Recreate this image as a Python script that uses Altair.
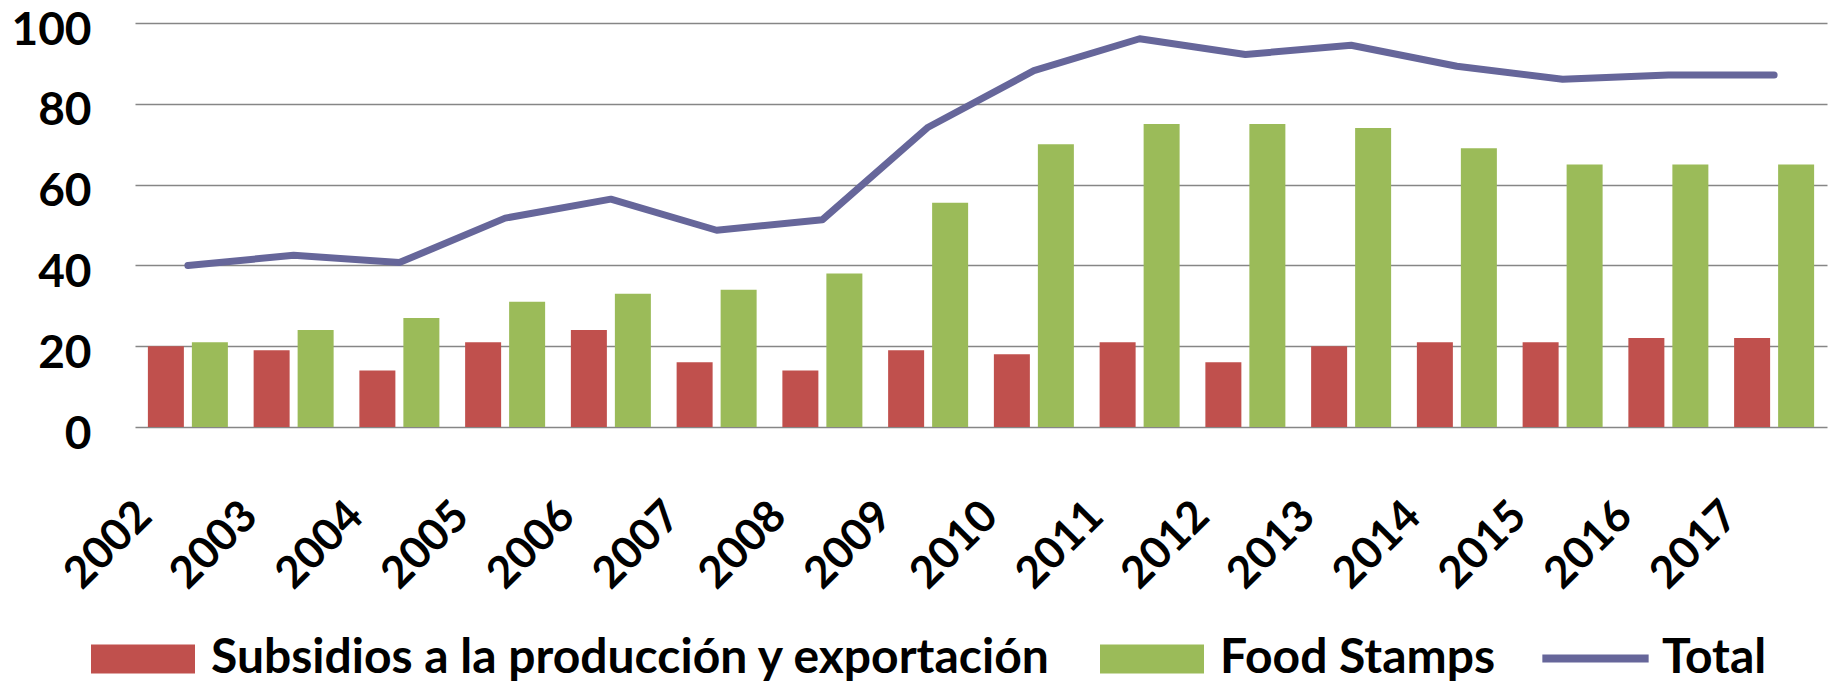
import altair as alt
import pandas as pd

years = [str(y) for y in range(2002, 2018)]
subsidios = [20, 19, 14, 21, 24, 16, 14, 19, 18, 21, 16, 20, 21, 21, 22, 22]
food_stamps = [21, 24, 27, 31, 33, 34, 38, 55.5, 70, 75, 75, 74, 69, 65, 65, 65]
total = [40, 42.5, 40.7, 51.7, 56.4, 48.7, 51.3, 74.2, 88.2, 96.1, 92.2, 94.5, 89.3, 86.1, 87.1, 87.1]
series_names = ["Subsidios a la producción y exportación", "Food Stamps", "Total"]
colors = ["#C0504D", "#9BBB59", "#66669A"]
y_ticks = [0, 20, 40, 60, 80, 100]

bars_df = pd.DataFrame({
    "year": years * 2,
    "serie": [series_names[0]] * len(years) + [series_names[1]] * len(years),
    "value": subsidios + food_stamps,
})
line_df = pd.DataFrame({"year": years, "serie": series_names[2], "value": total})

FONT = "Lato"
x_scale = alt.Scale(domain=years, paddingInner=0.2435, paddingOuter=0.1218)
y_scale = alt.Scale(domain=[0, 100], nice=False)

rect_path = "M-1,-0.28H1V0.28H-1Z"

bar_legend = alt.Legend(
    orient="none", legendX=-44, legendY=584, direction="horizontal", title=None,
    labelFont=FONT, labelFontSize=48, labelFontWeight="bold", labelColor="black",
    labelLimit=0, symbolSize=10816, symbolType=rect_path,
    symbolStrokeWidth=0, labelOffset=16, columnPadding=48, padding=0,
)
line_legend = alt.Legend(
    orient="none", legendX=1403, legendY=578, direction="horizontal", title=None,
    labelFont=FONT, labelFontSize=48, labelFontWeight="bold", labelColor="black",
    labelLimit=0, symbolSize=11300, symbolType="stroke", symbolStrokeWidth=8,
    labelOffset=9, padding=0,
)

x_axis = alt.Axis(
    title=None, labelAngle=-45, labelAlign="right", labelBaseline="middle",
    labelFont=FONT, labelFontSize=44, labelFontWeight="bold", labelColor="black",
    labelOffset=-43, labelPadding=82, ticks=False, tickSize=0, domain=False, grid=False,
)
y_axis = alt.Axis(
    title=None, values=y_ticks, labelFont=FONT, labelFontSize=46, labelFontWeight="bold",
    labelColor="black", labelPadding=44, labelOffset=7, ticks=False, tickSize=0, domain=False,
    grid=True, gridColor="#868686", gridWidth=1.3,
)

bars = alt.Chart(bars_df).mark_bar().encode(
    x=alt.X("year:N", scale=x_scale, axis=x_axis),
    xOffset=alt.XOffset("serie:N", scale=alt.Scale(domain=series_names[:2], paddingInner=0.1818, paddingOuter=0)),
    y=alt.Y("value:Q", scale=y_scale, axis=y_axis),
    color=alt.Color("serie:N", scale=alt.Scale(domain=series_names[:2], range=colors[:2]), legend=bar_legend),
)

line = alt.Chart(line_df).mark_line(strokeWidth=7, strokeCap="round", strokeJoin="round").encode(
    x=alt.X("year:N", scale=x_scale),
    y=alt.Y("value:Q", scale=y_scale),
    color=alt.Color("serie:N", scale=alt.Scale(domain=[series_names[2]], range=[colors[2]]), legend=line_legend),
)

chart = alt.layer(bars, line).resolve_scale(color="independent").resolve_legend(color="independent").properties(
    width=1692, height=404,
    autosize=alt.AutoSizeParams(type="none"),
    padding={"left": 127, "top": 15, "right": 3, "bottom": 255},
).configure_view(stroke=None)

chart.save("out.html", embed_options={"renderer": "svg", "actions": False})
